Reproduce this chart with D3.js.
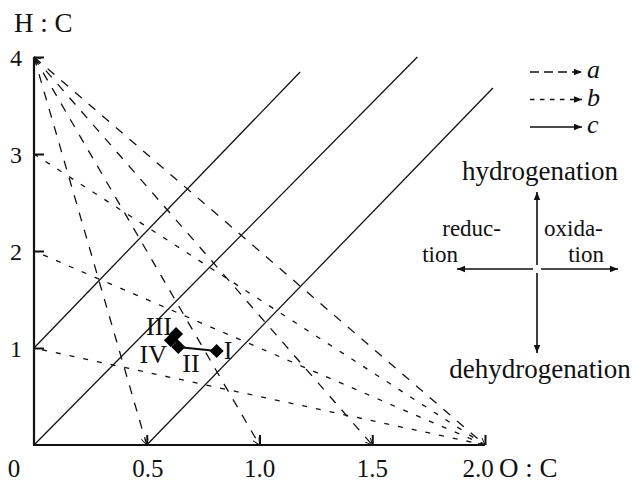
<!DOCTYPE html>
<html>
<head>
<meta charset="utf-8">
<script src="https://cdn.jsdelivr.net/npm/d3@7"></script>
<style>
  body { margin: 0; background: #fff; }
  text { font-family: "Liberation Serif", "DejaVu Serif", serif; fill: #111; }
</style>
</head>
<body>
<svg id="chart" width="632" height="483"></svg>
<script>
// tick values
var xTicks = [0.5, 1.0, 1.5, 2.0]
var xTickLabels = ["0.5", "1.0", "1.5", "2.0"]
var yTicks = [1, 2, 3, 4]

// a: from H:C = 4 down to the O:C axis
var aEnds = [0.5, 1.0, 1.5, 2.0]
// b: from O:C = 2 up to the H:C axis
var bEnds = [1, 2, 3]
// c: solid parallel lines [x0, y0, x1, y1]
var cLines = [[0, 1, 1.18, 3.845], [0, 0, 1.70, 4.0], [0.5, 0, 2.035, 3.68]]

// samples
var sampleNames = ["I", "II", "III", "IV"]
var sampleX = [0.81, 0.64, 0.63, 0.607]
var sampleY = [0.97, 1.01, 1.145, 1.08]

var svg = d3.select("#chart")
var x = d3.scaleLinear().domain([0, 2]).range([34, 485])
var y = d3.scaleLinear().domain([0, 4]).range([445, 57])

var defs = svg.append("defs")
defs.append("marker").attr("id", "tip")
  .attr("viewBox", "0 0 10 10").attr("refX", 10).attr("refY", 5)
  .attr("markerWidth", 7).attr("markerHeight", 7).attr("orient", "auto")
  .attr("markerUnits", "userSpaceOnUse")
  .append("path").attr("d", "M0,0L10,5L0,10").attr("fill", "none").attr("stroke", "#111").attr("stroke-width", 1.3)
defs.append("marker").attr("id", "head")
  .attr("viewBox", "0 0 10 10").attr("refX", 10).attr("refY", 5)
  .attr("markerWidth", 12).attr("markerHeight", 8).attr("orient", "auto")
  .attr("markerUnits", "userSpaceOnUse")
  .append("path").attr("d", "M0,1L10,5L0,9Z").attr("fill", "#111")

// a lines
svg.selectAll("line.a").data(aEnds).enter().append("line").attr("class", "a")
  .attr("x1", x(0)).attr("y1", y(4))
  .attr("x2", d => x(d)).attr("y2", y(0))
  .attr("stroke", "#111").attr("stroke-width", 1.3)
  .attr("stroke-dasharray", "9,9")
  .attr("marker-end", "url(#tip)")

// b lines
svg.selectAll("line.b").data(bEnds).enter().append("line").attr("class", "b")
  .attr("x1", x(2)).attr("y1", y(0))
  .attr("x2", x(0)).attr("y2", d => y(d))
  .attr("stroke", "#111").attr("stroke-width", 1.3)
  .attr("stroke-dasharray", "5,9")
svg.append("line")
  .attr("x1", x(2)).attr("y1", y(0)).attr("x2", x(0)).attr("y2", y(4))
  .attr("stroke", "none").attr("marker-end", "url(#tip)")

// c lines
svg.selectAll("line.c").data(cLines).enter().append("line").attr("class", "c")
  .attr("x1", d => x(d[0])).attr("y1", d => y(d[1]))
  .attr("x2", d => x(d[2])).attr("y2", d => y(d[3]))
  .attr("stroke", "#111").attr("stroke-width", 1.3)

// axes
var xAxis = d3.axisTop(x).tickValues(xTicks).tickSize(10).tickFormat("")
svg.append("g").attr("transform", "translate(0," + y(0) + ")").call(xAxis)
var yAxis = d3.axisRight(y).tickValues(yTicks).tickSize(10).tickFormat("")
svg.append("g").attr("transform", "translate(" + x(0) + ",0)").call(yAxis)
svg.selectAll(".domain").remove()
svg.selectAll(".tick line").attr("stroke", "#111").attr("stroke-width", 2)
svg.append("path").attr("d", "M" + x(0) + "," + y(4) + "V" + y(0) + "H" + x(2))
  .attr("fill", "none").attr("stroke", "#111").attr("stroke-width", 2.2)

// tick labels
var xLabelShift = [1, 0, 0, -7]
svg.selectAll("text.xl").data(xTicks).enter().append("text")
  .attr("x", (d, i) => x(d) + xLabelShift[i]).attr("y", 477).attr("text-anchor", "middle")
  .attr("font-size", 25).text((d, i) => xTickLabels[i])
svg.append("text").attr("x", 14).attr("y", 477).attr("text-anchor", "middle").attr("font-size", 25).text("0")
svg.append("text").attr("x", 499).attr("y", 477).attr("font-size", 27).text("O : C")
svg.selectAll("text.yl").data(yTicks).enter().append("text")
  .attr("x", 16).attr("y", d => y(d) + 9).attr("text-anchor", "middle")
  .attr("font-size", 24).text(d => d)
svg.append("text").attr("x", 14).attr("y", 32).attr("font-size", 27).text("H : C")

// sample path and points
var pts = sampleNames.map((n, i) => [sampleX[i], sampleY[i]])
svg.append("path").attr("d", d3.line().x(d => x(d[0])).y(d => y(d[1]))(pts))
  .attr("fill", "none").attr("stroke", "#111").attr("stroke-width", 2)
svg.selectAll("path.pt").data(pts).enter().append("path")
  .attr("d", "M0,-7L7,0L0,7L-7,0Z")
  .attr("transform", d => "translate(" + x(d[0]) + "," + y(d[1]) + ")")
  .attr("fill", "#000")
var labelPos = { "I": [228, 359, "middle"], "II": [191, 372, "middle"], "III": [172, 335, "end"], "IV": [167, 363, "end"] }
svg.selectAll("text.sl").data(sampleNames).enter().append("text")
  .attr("x", d => labelPos[d][0]).attr("y", d => labelPos[d][1])
  .attr("text-anchor", d => labelPos[d][2]).attr("font-size", 26).text(d => d)

// legend
var legend = [["a", "9,5"], ["b", "4.5,5.5"], ["c", null]]
var lg = svg.selectAll("g.lg").data(legend).enter().append("g")
  .attr("transform", (d, i) => "translate(0," + (72 + i * 27.5) + ")")
lg.append("line").attr("x1", 530).attr("x2", 582).attr("y1", 0).attr("y2", 0)
  .attr("stroke", "#111").attr("stroke-width", 1.6)
  .attr("stroke-dasharray", d => d[1])
  .attr("marker-end", "url(#head)")
lg.append("text").attr("x", 587).attr("y", 6).attr("font-size", 26)
  .attr("font-style", "italic").text(d => d[0])

// direction cross
var cx = 537, cy = 269
var arms = [[cx, cy - 4, cx, 192], [cx, cy + 4, cx, 353], [cx - 4, cy, 457, cy], [cx + 4, cy, 618, cy]]
svg.selectAll("line.arm").data(arms).enter().append("line")
  .attr("x1", d => d[0]).attr("y1", d => d[1]).attr("x2", d => d[2]).attr("y2", d => d[3])
  .attr("stroke", "#111").attr("stroke-width", 1.6).attr("marker-end", "url(#head)")
var words = [["hydrogenation", 540, 180, "middle", 27], ["dehydrogenation", 540, 378, "middle", 27],
  ["reduc-", 501, 236, "end", 23], ["tion", 458, 262, "end", 23],
  ["oxida-", 544, 236, "start", 23], ["tion", 604, 262, "end", 23]]
svg.selectAll("text.w").data(words).enter().append("text")
  .attr("x", d => d[1]).attr("y", d => d[2]).attr("text-anchor", d => d[3])
  .attr("font-size", d => d[4]).text(d => d[0])
</script>
</body>
</html>
